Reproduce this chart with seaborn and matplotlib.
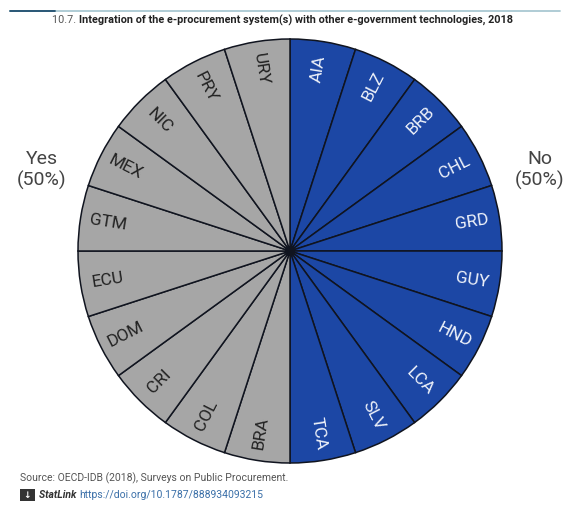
import matplotlib
matplotlib.use("Agg")
import matplotlib.pyplot as plt
import seaborn as sns
import numpy as np
from matplotlib.patches import Rectangle

sns.set_theme(style="white")
plt.rcParams['font.family'] = ['Roboto', 'DejaVu Sans']

# Countries, clockwise from 12 o'clock
no_countries = ["AIA", "BLZ", "BRB", "CHL", "GRD", "GUY", "HND", "LCA", "SLV", "TCA"]
yes_countries = ["BRA", "COL", "CRI", "DOM", "ECU", "GTM", "MEX", "NIC", "PRY", "URY"]
countries = no_countries + yes_countries
shares = [1] * len(countries)
group_labels = ["Yes\n(50%)", "No\n(50%)"]

blue = "#1c47a5"
grey = "#a6a6a6"
colors = [blue] * len(no_countries) + [grey] * len(yes_countries)

fig = plt.figure(figsize=(5.70, 5.07), dpi=100)
ax = fig.add_axes([(290 - 212) / 570, (256 - 212) / 507, 424 / 570, 424 / 507])

wedges, _ = ax.pie(shares, colors=colors, startangle=90, counterclock=False,
                   radius=1.0, wedgeprops=dict(edgecolor="#10141f", linewidth=1.1))
ax.set_aspect("equal")
ax.set_xlim(-1.0, 1.0)
ax.set_ylim(-1.0, 1.0)

for w, name, col in zip(wedges, countries, colors):
    ang = (w.theta1 + w.theta2) / 2.0
    a = np.deg2rad(ang)
    r = 0.87
    x, y = r * np.cos(a), r * np.sin(a)
    rot = ((ang + 180) % 360) - 180
    if rot > 90:
        rot -= 180
    elif rot < -90:
        rot += 180
    tc = "#eef2fa" if col == blue else "#222222"
    ax.text(x, y, name, rotation=rot, rotation_mode="anchor",
            ha="center", va="center", fontsize=12.5, color=tc)

# Group labels at either side
fig.text(42 / 570, 1 - 170 / 507, group_labels[0], ha="center", va="center",
         fontsize=14, color="#444444", linespacing=1.15)
fig.text(540 / 570, 1 - 170 / 507, group_labels[1], ha="center", va="center",
         fontsize=14, color="#444444", linespacing=1.15)

# Header rule
fig.add_artist(plt.Line2D([10 / 570, 560 / 570], [1 - 11 / 507] * 2,
                          color="#a9c8d2", linewidth=1.3, transform=fig.transFigure))
fig.add_artist(plt.Line2D([10 / 570, 55 / 570], [1 - 11 / 507] * 2,
                          color="#1f4e6e", linewidth=1.3, transform=fig.transFigure))

# Title
t1 = fig.text(52 / 570, 1 - 20 / 507, "10.7. ", ha="left", va="center",
              fontsize=7.8, color="#555555")
fig.canvas.draw()
bb = t1.get_window_extent()
fig.text(bb.x1 / fig.bbox.width, 1 - 20 / 507,
         "Integration of the e-procurement system(s) with other e-government technologies, 2018",
         ha="left", va="center", fontsize=7.8, fontweight="bold", color="#222222")

# Footer
fig.text(20 / 570, 1 - 478 / 507, "Source: OECD-IDB (2018), Surveys on Public Procurement.",
         ha="left", va="center", fontsize=7.5, color="#555555")
fig.add_artist(Rectangle((20 / 570, 1 - 501 / 507), 15 / 570, 12 / 507,
                         transform=fig.transFigure, facecolor="#333333", edgecolor="none"))
fig.text(27.5 / 570, 1 - 495 / 507, "\u2193", ha="center", va="center",
         fontsize=6.5, color="white", fontweight="bold", family=["DejaVu Sans"])
s1 = fig.text(39 / 570, 1 - 495 / 507, "StatLink ", ha="left", va="center",
              fontsize=7.5, color="#333333", style="italic", fontweight="bold")
fig.canvas.draw()
bb2 = s1.get_window_extent()
fig.text(bb2.x1 / fig.bbox.width, 1 - 495 / 507, "https://doi.org/10.1787/888934093215",
         ha="left", va="center", fontsize=7.5, color="#3a6fa8")

fig.savefig("out.png", dpi=100)
